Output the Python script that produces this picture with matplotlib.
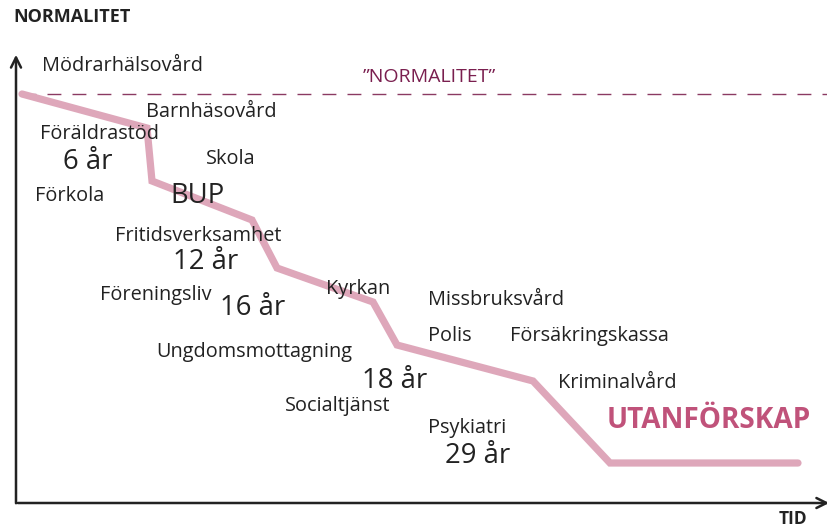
import matplotlib.pyplot as plt

plt.rcParams['font.family'] = ['Open Sans', 'DejaVu Sans']

# the "normality" curve over time (canvas units)
tid = [22, 147, 152, 252, 277, 373, 397, 533, 610, 798]
normalitet = [94, 128, 181, 220, 268, 302, 345, 381, 463, 463]
norm_niva = 94

# labels: text, x, y
etiketter = ["Mödrarhälsovård", "Barnhäsovård", "Föräldrastöd", "Skola", "Förkola",
             "Fritidsverksamhet", "Föreningsliv", "Kyrkan", "Missbruksvård", "Polis",
             "Försäkringskassa", "Ungdomsmottagning", "Kriminalvård", "Socialtjänst", "Psykiatri"]
etikett_x = [42, 146, 40, 206, 35, 115, 100, 326, 428, 428, 510, 156, 558, 285, 428]
etikett_y = [66, 112, 134, 159, 196, 236, 295, 289, 300, 336, 336, 352, 383, 406, 428]

alder = ["6 år", "BUP", "12 år", "16 år", "18 år", "29 år"]
alder_x = [63, 170, 173, 220, 362, 445]
alder_y = [162, 196, 262, 308, 381, 456]

fig = plt.figure(figsize=(8.28, 5.30), dpi=100)
ax = fig.add_axes([0, 0, 1, 1])
ax.set_xlim(0, 828); ax.set_ylim(530, 0)
ax.axis('off')

# axes with arrows
ax.annotate('', xy=(16, 52), xytext=(16, 506), annotation_clip=False,
            arrowprops=dict(arrowstyle='->', color='#222222', lw=1.8, mutation_scale=18))
ax.annotate('', xy=(832, 503), xytext=(15, 503), annotation_clip=False,
            arrowprops=dict(arrowstyle='->', color='#222222', lw=1.8, mutation_scale=18))

ax.axhline(norm_niva, xmin=22/828, xmax=1, color='#8b3a62', lw=1, dashes=(10, 8))
ax.plot(tid, normalitet, color='#dea7ba', lw=5.2, solid_capstyle='round', solid_joinstyle='miter')

for t, x, y in zip(etiketter, etikett_x, etikett_y):
    ax.text(x, y, t, fontsize=14.3, color='#222222', va='center', ha='left')
for t, x, y in zip(alder, alder_x, alder_y):
    ax.text(x, y, t, fontsize=19.8, color='#222222', va='center', ha='left')

ax.text(13, 17, "NORMALITET", fontsize=13, fontweight='bold', color='#222222', va='center')
ax.text(807, 519, "TID", fontsize=12.5, fontweight='bold', color='#222222', va='center', ha='right')
ax.text(429, 77, "\u201dNORMALITET\u201d", fontsize=14, color='#7a1f4f', va='center', ha='center')
ax.text(607, 420, "UTANFÖRSKAP", fontsize=20.2, fontweight='bold', color='#c0527a', va='center', ha='left')

fig.savefig('out.png', dpi=100)
